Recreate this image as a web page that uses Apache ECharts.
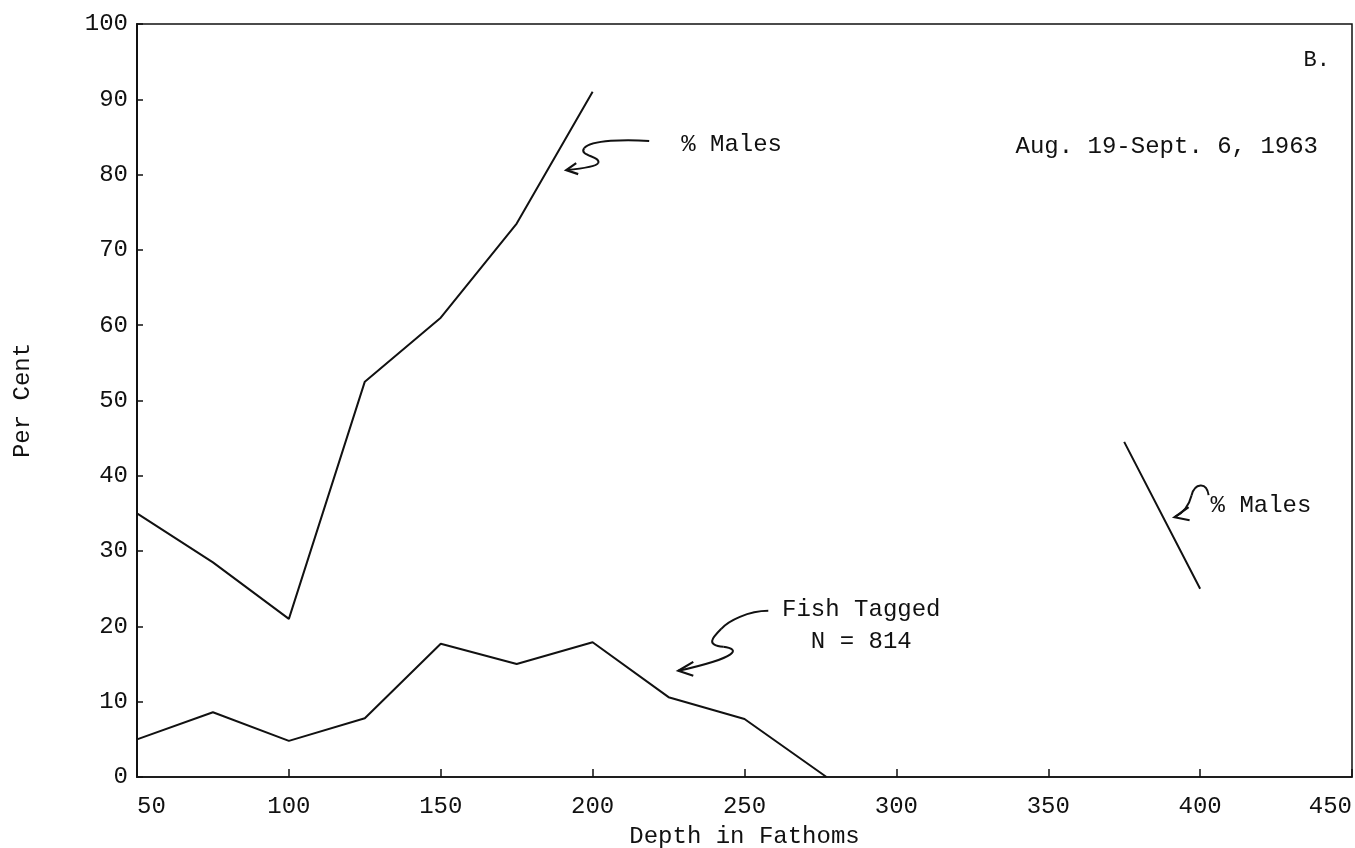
<!DOCTYPE html>
<html>
<head>
<meta charset="utf-8">
<script src="https://cdn.jsdelivr.net/npm/echarts@6/dist/echarts.min.js"></script>
<style>
html,body{margin:0;padding:0;background:#fff;}
#chart{width:1355px;height:848px;}
</style>
</head>
<body>
<div id="chart"></div>
<script>
// ---- data ----
const xTickLabels = [50, 100, 150, 200, 250, 300, 350, 400, 450];
const yTickLabels = [0, 10, 20, 30, 40, 50, 60, 70, 80, 90, 100];

const malesDepthA = [50, 75, 100, 125, 150, 175, 200];
const malesPctA   = [35, 28.5, 21, 52.5, 61, 73.5, 91];
const malesDepthB = [375, 400];
const malesPctB   = [44.5, 25];

const fishDepth = [50, 75, 100, 125, 150, 175, 200, 225, 250, 277];
const fishPct   = [5, 8.6, 4.8, 7.8, 17.7, 15, 17.9, 10.6, 7.7, 0];

const seriesNames = ['% Males', 'Fish Tagged'];
const fishNote = 'N = 814';
const panelLetter = 'B.';
const dateRange = 'Aug. 19-Sept. 6, 1963';
const xName = 'Depth in Fathoms';
const yName = 'Per Cent';

// ---- build ----
const FONT = '"Liberation Mono", "DejaVu Sans Mono", monospace';
const INK = '#111';

const malesData = malesDepthA.map((d, i) => [d, malesPctA[i]])
  .concat([[null, null]])
  .concat(malesDepthB.map((d, i) => [d, malesPctB[i]]));
const fishData = fishDepth.map((d, i) => [d, fishPct[i]]);

const chart = echarts.init(document.getElementById('chart'), null, {renderer: 'canvas'});

chart.setOption({
  backgroundColor: '#fff',
  animation: false,
  title: [
    {text: panelLetter, right: 20, top: 44,
     textStyle: {fontFamily: FONT, fontSize: 22, fontWeight: 'normal', color: INK}},
    {text: dateRange, right: 32, top: 130,
     textStyle: {fontFamily: FONT, fontSize: 24, fontWeight: 'normal', color: INK}}
  ],
  grid: {left: 137, right: 3, top: 24, bottom: 71, show: true, outerBoundsMode: 'none',
         containLabel: false,
         borderColor: INK, borderWidth: 1.5, backgroundColor: 'transparent'},
  xAxis: {
    type: 'value', min: xTickLabels[0], max: xTickLabels[xTickLabels.length - 1], interval: 50,
    name: xName, nameLocation: 'middle', nameGap: 48,
    nameTextStyle: {fontFamily: FONT, fontSize: 24, color: INK},
    axisLine: {show: true, lineStyle: {color: INK, width: 1.5}},
    axisTick: {show: true, inside: true, length: 8, lineStyle: {color: INK, width: 1.5}},
    axisLabel: {fontFamily: FONT, fontSize: 24, color: INK, margin: 18,
                alignMinLabel: 'left', alignMaxLabel: 'right'},
    splitLine: {show: false}
  },
  yAxis: {
    type: 'value', min: yTickLabels[0], max: yTickLabels[yTickLabels.length - 1], interval: 10,
    name: yName, nameLocation: 'middle', nameGap: 102, nameRotate: 90,
    nameTextStyle: {fontFamily: FONT, fontSize: 24, color: INK},
    axisLine: {show: true, lineStyle: {color: INK, width: 2}},
    axisTick: {show: true, inside: true, length: 6, lineStyle: {color: INK, width: 1.5}},
    axisLabel: {fontFamily: FONT, fontSize: 24, color: INK, margin: 9},
    splitLine: {show: false}
  },
  series: [
    {name: seriesNames[0], type: 'line', data: malesData, connectNulls: false,
     showSymbol: false, symbol: 'none', lineStyle: {color: INK, width: 2}},
    {name: seriesNames[1], type: 'line', data: fishData,
     showSymbol: false, symbol: 'none', lineStyle: {color: INK, width: 2}}
  ]
});

// ---- hand-drawn style annotations, anchored to data coordinates ----
function px(x, y) { return chart.convertToPixel({gridIndex: 0}, [x, y]); }

// segs: list of [x1,y1, cx1,cy1, cx2,cy2, x2,y2] in pixel offsets from the arrow tip
function arrowNote(tipData, segs, head, text, textPos, align) {
  const p = px(tipData[0], tipData[1]);
  const children = segs.map(s => ({
    type: 'bezierCurve',
    shape: {x1: s[0], y1: s[1], cpx1: s[2], cpy1: s[3], cpx2: s[4], cpy2: s[5], x2: s[6], y2: s[7]},
    style: {fill: null, stroke: INK, lineWidth: 2}
  }));
  children.push({type: 'polyline', shape: {points: [head[0], [0, 0], head[1]]},
    style: {fill: null, stroke: INK, lineWidth: 2.2}});
  children.push({type: 'text', x: textPos[0], y: textPos[1],
    style: {text: text, font: '24px ' + FONT, fill: INK,
            align: align, verticalAlign: 'middle', lineHeight: 32}});
  return {type: 'group', x: p[0], y: p[1], silent: true, children: children};
}

chart.setOption({
  graphic: [
    arrowNote([191.3, 80.6],
      [[83, -29, 60, -31, 25, -30, 18, -22],
       [18, -22, 12, -14, 35, -14, 32, -7],
       [32, -7, 30, -3, 10, -1, 0, 0]],
      [[10, -7], [12, 4]], seriesNames[0], [115, -25], 'left'),
    arrowNote([391.6, 34.5],
      [[0, 0, 8, -4, 14, -10, 17, -22],
       [17, -22, 20, -34, 32, -36, 34, -22]],
      [[14, -10], [15, 3]], seriesNames[0], [36, -12], 'left'),
    arrowNote([228.2, 14.1],
      [[90, -60, 70, -60, 50, -50, 43, -42],
       [43, -42, 33, -32, 28, -26, 45, -24],
       [45, -24, 62, -22, 62, -14, 0, 0]],
      [[15, -9], [15, 5]], seriesNames[1] + '\n' + fishNote, [183, -45], 'center')
  ]
});
</script>
</body>
</html>
